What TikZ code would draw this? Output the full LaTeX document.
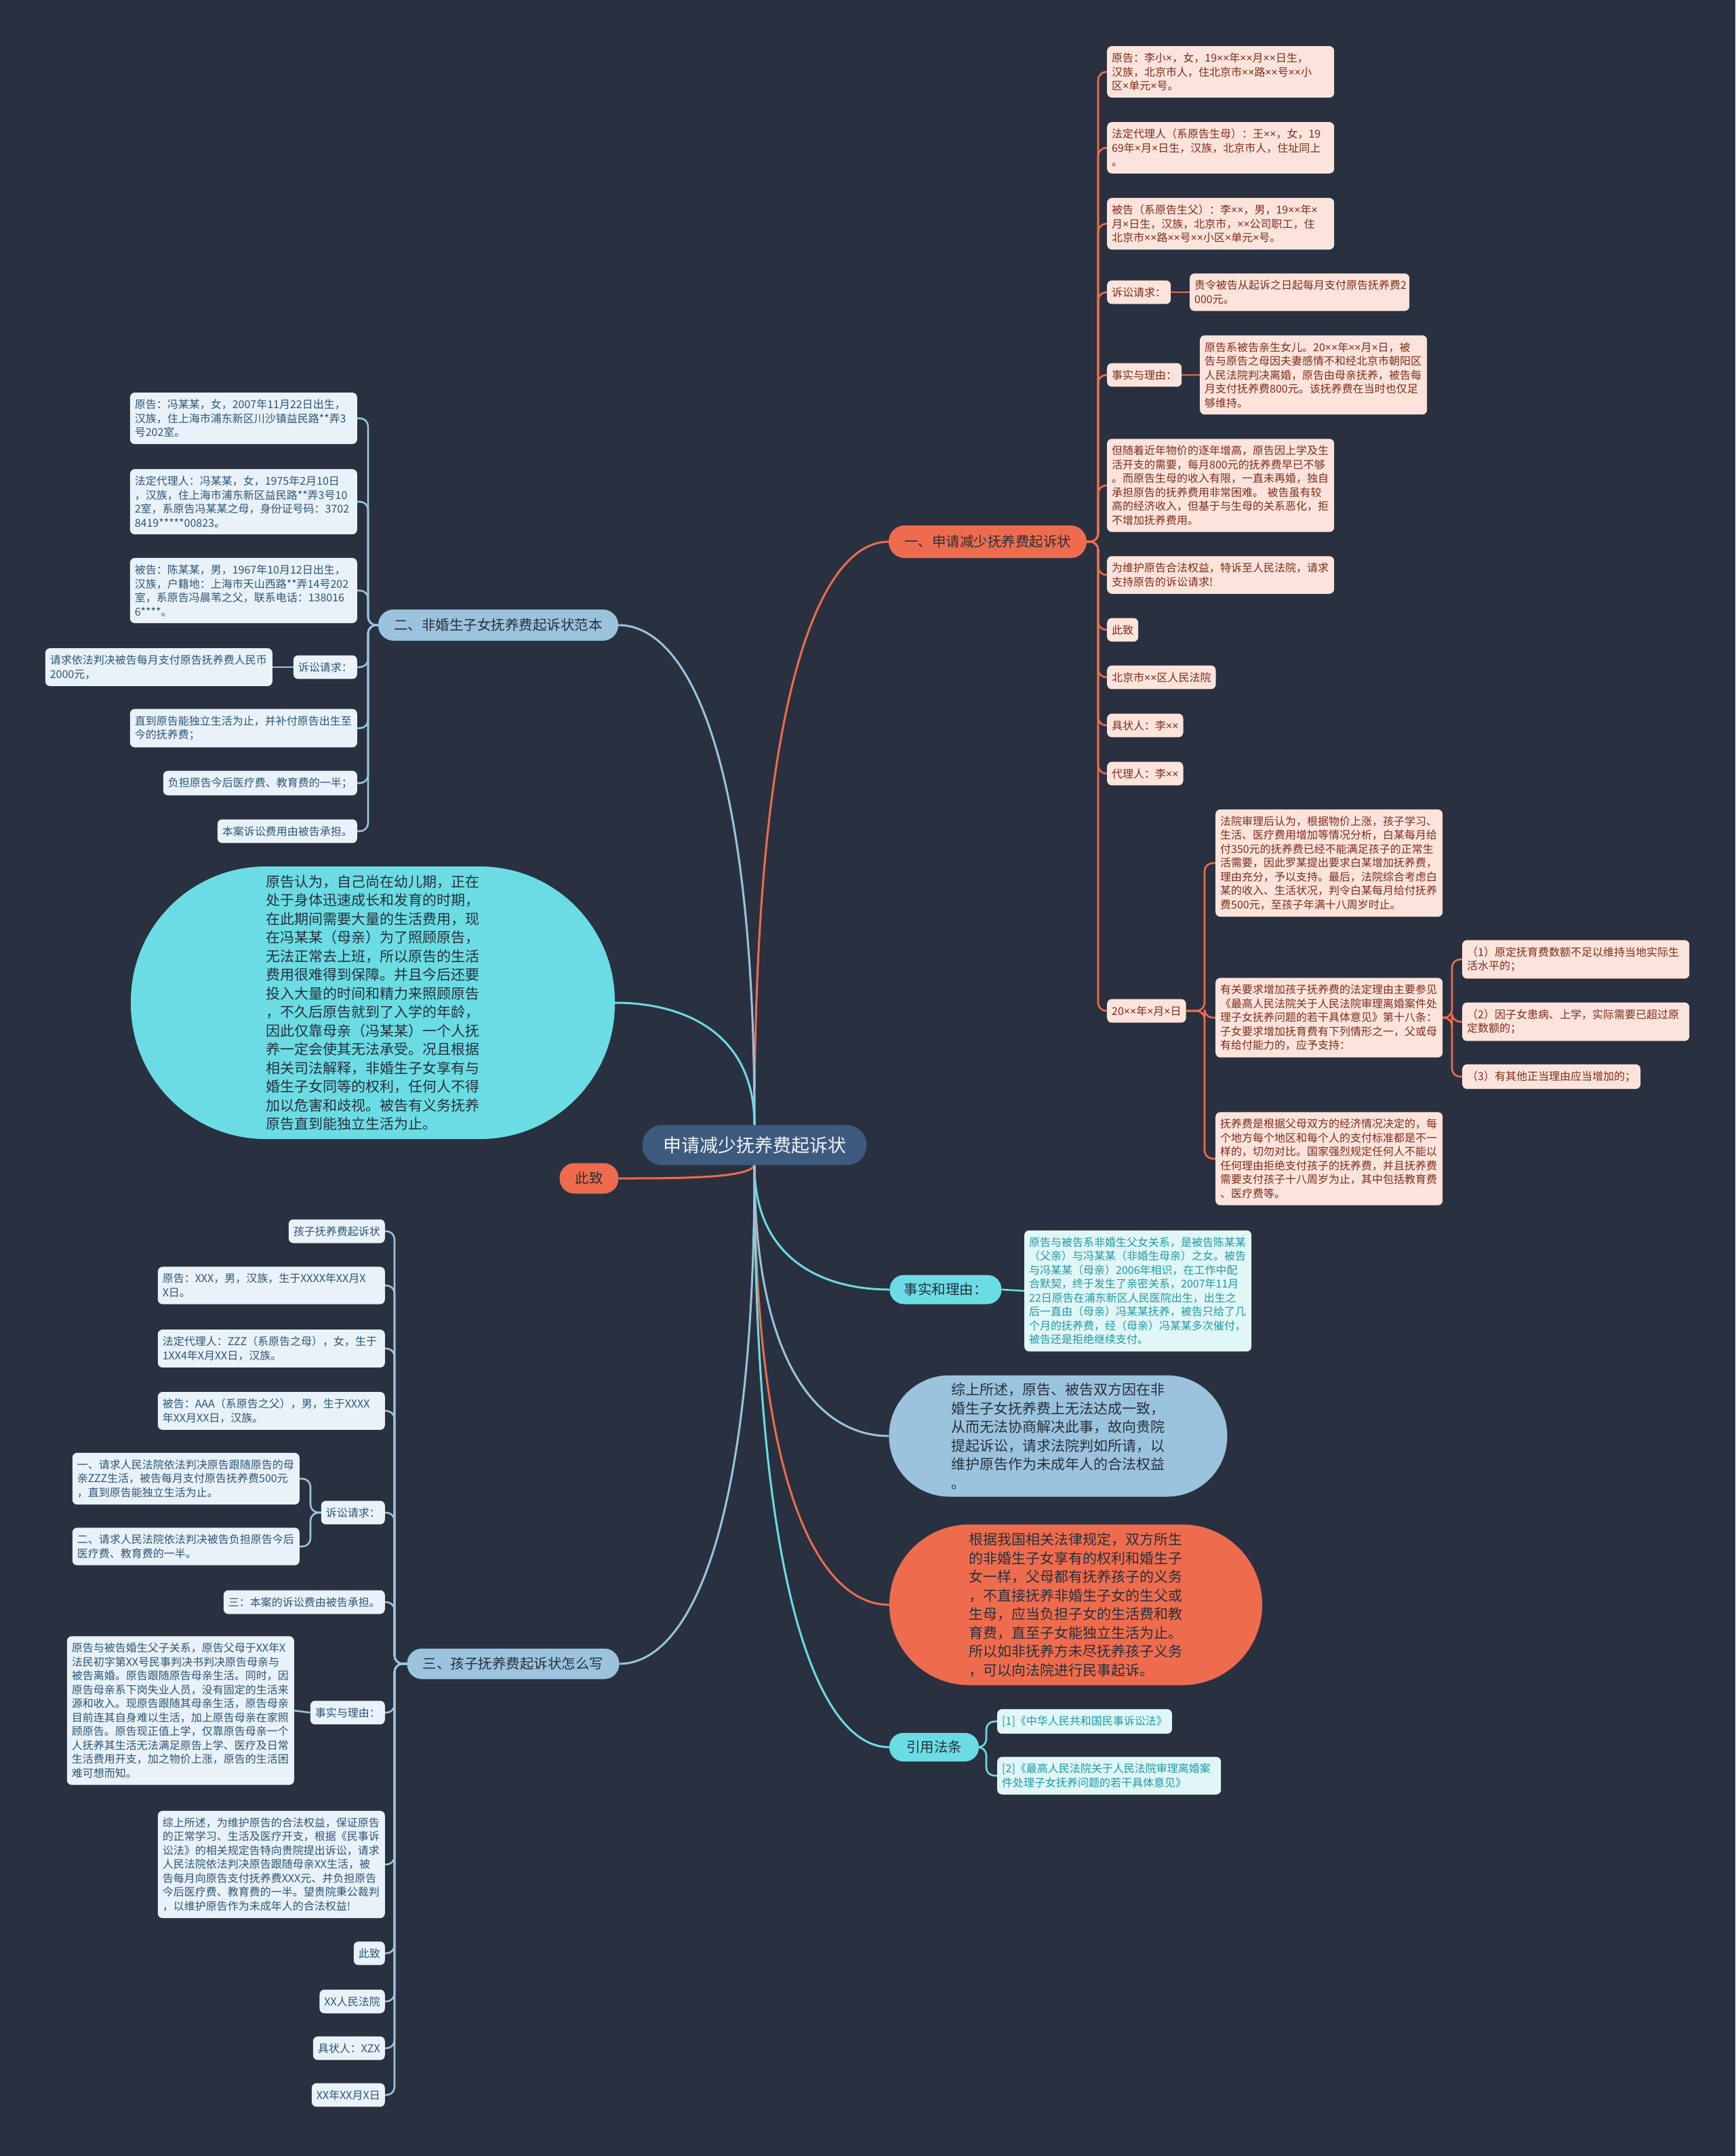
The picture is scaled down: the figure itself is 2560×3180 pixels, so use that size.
\documentclass[tikz,border=0pt]{standalone}
\usepackage{fontspec}
\setmainfont{Noto Sans CJK SC}
\newfontfamily\tmsfont{Noto Sans}
\newcommand{\tms}{{\tmsfont ×}}
\usetikzlibrary{calc,backgrounds}
\definecolor{cbg}{HTML}{293140}
\definecolor{corange}{HTML}{EE6C4D}
\definecolor{coleaf}{HTML}{FCE4DC}
\definecolor{cotxt}{HTML}{7F2B1B}
\definecolor{cblue}{HTML}{9CC3DE}
\definecolor{cbleaf}{HTML}{E9F2F8}
\definecolor{cbtxt}{HTML}{2C5577}
\definecolor{ccyan}{HTML}{6BDCE4}
\definecolor{ccleaf}{HTML}{E0F6F7}
\definecolor{cctxt}{HTML}{1F9AA3}
\definecolor{croot}{HTML}{3E5A7F}
\definecolor{crtxt}{HTML}{F2F5F9}
\definecolor{cdark}{HTML}{26303C}
\newcommand{\leaffont}{\fontsize{16pt}{20.5pt}\selectfont}
\newcommand{\pillfont}{\fontsize{20.5pt}{26pt}\selectfont}
\newcommand{\bigfont}{\fontsize{21pt}{27.5pt}\selectfont}
\newcommand{\rootfont}{\fontsize{27pt}{32pt}\selectfont}
\tikzset{
  leafbase/.style={rounded corners=7pt, inner xsep=7pt, inner ysep=10pt, font=\leaffont},
  oleaf/.style={leafbase, fill=coleaf, text=cotxt},
  bleaf/.style={leafbase, fill=cbleaf, text=cbtxt},
  cleaf/.style={leafbase, fill=ccleaf, text=cctxt},
  wbox/.style={text width=321pt, align=left},
  pillbase/.style={inner sep=0pt, font=\pillfont, text=cdark},
  opill/.style={pillbase, fill=corange},
  bpill/.style={pillbase, fill=cblue},
  cpill/.style={pillbase, fill=ccyan},
  bignode/.style={inner sep=0pt, font=\bigfont, align=left, text=cdark},
  rootnode/.style={fill=croot, text=crtxt, font=\rootfont, inner sep=0pt, minimum width=331pt, minimum height=59pt, rounded corners=29pt},
  mainlink/.style={line width=3pt},
  leaflink/.style={line width=2.6pt, rounded corners=12pt},
  olink/.style={leaflink, draw=corange},
  blink/.style={leaflink, draw=cblue},
  clink/.style={leaflink, draw=ccyan},
}
\begin{document}
\begin{tikzpicture}[x=1pt,y=-1pt]
\useasboundingbox (0,0) rectangle (2560,3180);

% root
\node[rootnode] (root) at (1113,1689) {申请减少抚养费起诉状};

% ===== branch 1 (orange, right)
\node[opill, minimum width=292pt, minimum height=48pt, rounded corners=23.5pt] (b1) at (1457,799) {一、申请减少抚养费起诉状};
\node[oleaf, wbox, anchor=west] (o1) at (1633,106) {原告：李小\tms，女，19\tms\tms 年\tms\tms 月\tms\tms 日生，\\汉族，北京市人，住北京市\tms\tms 路\tms\tms 号\tms\tms 小\\区\tms 单元\tms 号。};
\node[oleaf, wbox, anchor=west] (o2) at (1633,218) {法定代理人（系原告生母）：王\tms\tms，女，19\\69年\tms 月\tms 日生，汉族，北京市人，住址同上\\。};
\node[oleaf, wbox, anchor=west] (o3) at (1633,330) {被告（系原告生父）：李\tms\tms，男，19\tms\tms 年\tms\\月\tms 日生，汉族，北京市，\tms\tms 公司职工，住\\北京市\tms\tms 路\tms\tms 号\tms\tms 小区\tms 单元\tms 号。};
\node[oleaf, anchor=west] (o4) at (1633,431) {诉讼请求：};
\node[oleaf, anchor=west, text width=310pt, align=left] (o4a) at (1755,431) {责令被告从起诉之日起每月支付原告抚养费2\\000元。};
\node[oleaf, anchor=west] (o5) at (1633,553) {事实与理由：};
\node[oleaf, wbox, anchor=west] (o5a) at (1770,553) {原告系被告亲生女儿。20\tms\tms 年\tms\tms 月\tms 日，被\\告与原告之母因夫妻感情不和经北京市朝阳区\\人民法院判决离婚，原告由母亲抚养，被告每\\月支付抚养费800元。该抚养费在当时也仅足\\够维持。};
\node[oleaf, wbox, anchor=west] (o6) at (1633,716) {但随着近年物价的逐年增高，原告因上学及生\\活开支的需要，每月800元的抚养费早已不够\\。而原告生母的收入有限，一直未再婚，独自\\承担原告的抚养费用非常困难。 被告虽有较\\高的经济收入，但基于与生母的关系恶化，拒\\不增加抚养费用。};
\node[oleaf, wbox, anchor=west] (o7) at (1633,848) {为维护原告合法权益，特诉至人民法院，请求\\支持原告的诉讼请求!};
\node[oleaf, anchor=west] (o8) at (1633,929) {此致};
\node[oleaf, anchor=west] (o9) at (1633,999) {北京市\tms\tms 区人民法院};
\node[oleaf, anchor=west] (o10) at (1633,1070) {具状人：李\tms\tms};
\node[oleaf, anchor=west] (o11) at (1633,1141) {代理人：李\tms\tms};
\node[oleaf, anchor=west] (o12) at (1633,1491) {20\tms\tms 年\tms 月\tms 日};
\node[oleaf, wbox, anchor=west] (o12a) at (1793,1273) {法院审理后认为，根据物价上涨，孩子学习、\\生活、医疗费用增加等情况分析，白某每月给\\付350元的抚养费已经不能满足孩子的正常生\\活需要，因此罗某提出要求白某增加抚养费，\\理由充分，予以支持。最后，法院综合考虑白\\某的收入、生活状况，判令白某每月给付抚养\\费500元，至孩子年满十八周岁时止。};
\node[oleaf, wbox, anchor=west] (o12b) at (1793,1501) {有关要求增加孩子抚养费的法定理由主要参见\\《最高人民法院关于人民法院审理离婚案件处\\理子女抚养问题的若干具体意见》第十八条：\\子女要求增加抚育费有下列情形之一，父或母\\有给付能力的，应予支持：};
\node[oleaf, wbox, anchor=west] (o12c) at (1793,1709) {抚养费是根据父母双方的经济情况决定的，每\\个地方每个地区和每个人的支付标准都是不一\\样的，切勿对比。国家强烈规定任何人不能以\\任何理由拒绝支付孩子的抚养费，并且抚养费\\需要支付孩子十八周岁为止，其中包括教育费\\、医疗费等。};
\node[oleaf, wbox, anchor=west] (p1) at (2157,1415) {（1）原定抚育费数额不足以维持当地实际生\\活水平的；};
\node[oleaf, wbox, anchor=west] (p2) at (2157,1507) {（2）因子女患病、上学，实际需要已超过原\\定数额的；};
\node[oleaf, anchor=west] (p3) at (2157,1588) {（3）有其他正当理由应当增加的；};

% ===== branch 2 (blue, left)
\node[bpill, minimum width=354pt, minimum height=46pt, rounded corners=22.5pt] (b2) at (735,922) {二、非婚生子女抚养费起诉状范本};
\node[bleaf, wbox, anchor=east] (l1) at (527,617) {原告：冯某某，女，2007年11月22日出生，\\汉族，住上海市浦东新区川沙镇益民路**弄3\\号202室。};
\node[bleaf, wbox, anchor=east] (l2) at (527,740) {法定代理人：冯某某，女，1975年2月10日\\，汉族，住上海市浦东新区益民路**弄3号10\\2室，系原告冯某某之母，身份证号码：3702\\8419*****00823。};
\node[bleaf, wbox, anchor=east] (l3) at (527,871) {被告：陈某某，男，1967年10月12日出生，\\汉族，户籍地：上海市天山西路**弄14号202\\室，系原告冯晨苇之父，联系电话：138016\\6****。};
\node[bleaf, anchor=east] (l4) at (527,984) {诉讼请求：};
\node[bleaf, wbox, anchor=east] (l4a) at (402,984) {请求依法判决被告每月支付原告抚养费人民币\\2000元，};
\node[bleaf, wbox, anchor=east] (l5) at (527,1074) {直到原告能独立生活为止，并补付原告出生至\\今的抚养费；};
\node[bleaf, anchor=east] (l6) at (527,1155) {负担原告今后医疗费、教育费的一半；};
\node[bleaf, anchor=east] (l7) at (527,1226) {本案诉讼费用由被告承担。};

% ===== cyan big node (left)
\node[bignode, fill=ccyan, minimum width=714pt, minimum height=402pt, rounded corners=199pt] (e1) at (550,1479) {原告认为，自己尚在幼儿期，正在\\处于身体迅速成长和发育的时期，\\在此期间需要大量的生活费用，现\\在冯某某（母亲）为了照顾原告，\\无法正常去上班，所以原告的生活\\费用很难得到保障。并且今后还要\\投入大量的时间和精力来照顾原告\\，不久后原告就到了入学的年龄，\\因此仅靠母亲（冯某某）一个人抚\\养一定会使其无法承受。况且根据\\相关司法解释，非婚生子女享有与\\婚生子女同等的权利，任何人不得\\加以危害和歧视。被告有义务抚养\\原告直到能独立生活为止。};

% ===== 此致 (orange)
\node[opill, minimum width=87pt, minimum height=45pt, rounded corners=22pt] (zz) at (869,1738) {此致};

% ===== 事实和理由 (cyan)
\node[cpill, minimum width=165pt, minimum height=43pt, rounded corners=21pt] (c0) at (1395,1902) {事实和理由：};
\node[cleaf, wbox, anchor=west] (c1) at (1511,1904) {原告与被告系非婚生父女关系，是被告陈某某\\（父亲）与冯某某（非婚生母亲）之女。被告\\与冯某某（母亲）2006年相识，在工作中配\\合默契，终于发生了亲密关系，2007年11月\\22日原告在浦东新区人民医院出生，出生之\\后一直由（母亲）冯某某抚养，被告只给了几\\个月的抚养费，经（母亲）冯某某多次催付，\\被告还是拒绝继续支付。};

% ===== big blue and orange nodes
\node[bignode, fill=cblue, minimum width=499pt, minimum height=179pt, rounded corners=89pt] (e2) at (1561,2118) {综上所述，原告、被告双方因在非\\婚生子女抚养费上无法达成一致，\\从而无法协商解决此事，故向贵院\\提起诉讼，请求法院判如所请，以\\维护原告作为未成年人的合法权益\\。};
\node[bignode, fill=corange, minimum width=550pt, minimum height=237pt, rounded corners=118pt] (e3) at (1587,2367) {根据我国相关法律规定，双方所生\\的非婚生子女享有的权利和婚生子\\女一样，父母都有抚养孩子的义务\\，不直接抚养非婚生子女的生父或\\生母，应当负担子女的生活费和教\\育费，直至子女能独立生活为止。\\所以如非抚养方未尽抚养孩子义务\\，可以向法院进行民事起诉。};

% ===== 引用法条 (cyan)
\node[cpill, minimum width=132pt, minimum height=42pt, rounded corners=20.5pt] (c3) at (1378,2577) {引用法条};
\node[cleaf, anchor=west] (c4) at (1471,2539) {[1]《中华人民共和国民事诉讼法》};
\node[cleaf, text width=316pt, align=left, anchor=west] (c5) at (1471,2619) {[2]《最高人民法院关于人民法院审理离婚案\\件处理子女抚养问题的若干具体意见》};

% ===== branch 3 (blue, left bottom)
\node[bpill, minimum width=313pt, minimum height=45pt, rounded corners=22pt] (b3) at (757,2454) {三、孩子抚养费起诉状怎么写};
\node[bleaf, anchor=east] (t1) at (568,1816) {孩子抚养费起诉状};
\node[bleaf, wbox, anchor=east] (t2) at (568,1896) {原告：XXX，男，汉族，生于XXXX年XX月X\\X日。};
\node[bleaf, wbox, anchor=east] (t3) at (568,1989) {法定代理人：ZZZ（系原告之母），女，生于\\1XX4年X月XX日，汉族。};
\node[bleaf, wbox, anchor=east] (t4) at (568,2081) {被告：AAA（系原告之父），男，生于XXXX\\年XX月XX日，汉族。};
\node[bleaf, anchor=east] (t5) at (568,2231) {诉讼请求：};
\node[bleaf, wbox, anchor=east] (t5a) at (442,2181) {一、请求人民法院依法判决原告跟随原告的母\\亲ZZZ生活，被告每月支付原告抚养费500元\\，直到原告能独立生活为止。};
\node[bleaf, wbox, anchor=east] (t5b) at (442,2281) {二、请求人民法院依法判决被告负担原告今后\\医疗费、教育费的一半。};
\node[bleaf, anchor=east] (t6) at (568,2363) {三：本案的诉讼费由被告承担。};
\node[bleaf, anchor=east] (t7) at (568,2526) {事实与理由：};
\node[bleaf, wbox, anchor=east] (t7a) at (434,2523) {原告与被告婚生父子关系，原告父母于XX年X\\法民初字第XX号民事判决书判决原告母亲与\\被告离婚。原告跟随原告母亲生活。同时，因\\原告母亲系下岗失业人员，没有固定的生活来\\源和收入。现原告跟随其母亲生活，原告母亲\\目前连其自身难以生活，加上原告母亲在家照\\顾原告。原告现正值上学，仅靠原告母亲一个\\人抚养其生活无法满足原告上学、医疗及日常\\生活费用开支，加之物价上涨，原告的生活困\\难可想而知。};
\node[bleaf, wbox, anchor=east] (t8) at (568,2750) {综上所述，为维护原告的合法权益，保证原告\\的正常学习、生活及医疗开支，根据《民事诉\\讼法》的相关规定告特向贵院提出诉讼，请求\\人民法院依法判决原告跟随母亲XX生活，被\\告每月向原告支付抚养费XXX元、并负担原告\\今后医疗费、教育费的一半。望贵院秉公裁判\\，以维护原告作为未成年人的合法权益!};
\node[bleaf, anchor=east] (t9) at (568,2881) {此致};
\node[bleaf, anchor=east] (t10) at (568,2952) {XX人民法院};
\node[bleaf, anchor=east] (t11) at (568,3021) {具状人：XZX};
\node[bleaf, anchor=east] (t12) at (568,3090) {XX年XX月X日};

% ===== connectors
\begin{scope}[on background layer]
\fill[cbg] (0,0) rectangle (2560,3180);
% root branches
\draw[mainlink, draw=corange] (root.north) .. controls (1113,1014) and (1212,799) .. (b1.west);
\draw[mainlink, draw=cblue] (root.north) .. controls (1113,1106) and (1012,922) .. (b2.east);
\draw[mainlink, draw=ccyan] (root.north) .. controls (1113,1524) and (1010,1479) .. (e1.east);
\draw[mainlink, draw=corange] (root.south) .. controls (1105,1738) and (1000,1738) .. (zz.east);
\draw[mainlink, draw=ccyan] (root.south) .. controls (1113,1856) and (1212,1902) .. (c0.west);
\draw[mainlink, draw=cblue] (root.south) .. controls (1113,2018) and (1212,2118) .. (e2.west);
\draw[mainlink, draw=corange] (root.south) .. controls (1113,2205) and (1212,2367) .. (e3.west);
\draw[mainlink, draw=ccyan] (root.south) .. controls (1113,2362) and (1212,2577) .. (c3.west);
\draw[mainlink, draw=cblue] (root.south) .. controls (1113,2270) and (1013,2454) .. (b3.east);
% branch 1 leaves
\foreach \c in {o1,o2,o3,o4,o5,o6,o7,o8,o9,o10,o11,o12}
  \draw[olink] (b1.east) -| ($(\c.west)+(-13,0)$) -- (\c.west);
\draw[olink] (o4.east) -- (o4a.west);
\draw[olink] (o5.east) -- (o5a.west);
\foreach \c in {o12a,o12b,o12c}
  \draw[olink] (o12.east) -| ($(\c.west)+(-16,0)$) -- (\c.west);
\foreach \c in {p1,p2,p3}
  \draw[olink] (o12b.east) -| ($(\c.west)+(-15,0)$) -- (\c.west);
% branch 2 leaves
\foreach \c in {l1,l2,l3,l4,l5,l6,l7}
  \draw[blink] (b2.west) -| ($(\c.east)+(16,0)$) -- (\c.east);
\draw[blink] (l4.west) -- (l4a.east);
% cyan leaves
\draw[clink] (c0.east) -- (c1.west);
\foreach \c in {c4,c5}
  \draw[clink] (c3.east) -| ($(\c.west)+(-16,0)$) -- (\c.west);
% branch 3 leaves
\foreach \c in {t1,t2,t3,t4,t5,t6,t7,t8,t9,t10,t11,t12}
  \draw[blink] (b3.west) -| ($(\c.east)+(14,0)$) -- (\c.east);
\foreach \c in {t5a,t5b}
  \draw[blink] (t5.west) -| ($(\c.east)+(16,0)$) -- (\c.east);
\draw[blink] (t7.west) -- (t7a.east);
\end{scope}
\end{tikzpicture}
\end{document}
